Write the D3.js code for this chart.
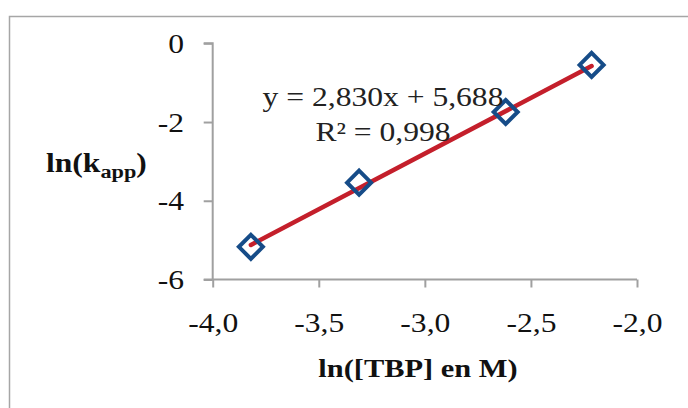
<!DOCTYPE html>
<html><head><meta charset="utf-8">
<script src="https://cdn.jsdelivr.net/npm/d3@7"></script>
<style>body{margin:0;background:#fff}svg{display:block}</style>
</head><body>
<svg id="c" width="688" height="408"></svg>
<script>
const xValues = [-3.82, -3.31, -2.619, -2.214];
const yValues = [-5.17, -3.54, -1.745, -0.549];
const slope = 2.830, intercept = 5.688;
const equationLines = ["y = 2,830x + 5,688", "R² = 0,998"];
const xTicks = [-4.0, -3.5, -3.0, -2.5, -2.0];
const yTicks = [0, -2, -4, -6];
const xTitle = "ln([TBP] en M)";

const FONT = '"Liberation Serif", "Times New Roman", serif';
const SX = 1.17;
const svg = d3.select("#c");
svg.append("rect").attr("x", 9.5).attr("y", 16.5).attr("width", 700).attr("height", 420)
  .attr("fill", "#fff").attr("stroke", "#a6a6a6").attr("stroke-width", 1.5);

const x = d3.scaleLinear().domain([-4, -2]).range([212.7, 637]);
const y = d3.scaleLinear().domain([-6, 0]).range([279.5, 43.3]);
const fmtX = v => d3.format(".1f")(v).replace(".", ",").replace("−", "-");
const fmtY = v => String(v).replace("−", "-");

const axCol = "#a0a0a0";
const xAxis = svg.append("g").attr("transform", `translate(0,${y(-6)})`)
  .call(d3.axisBottom(x).tickValues(xTicks).tickFormat(fmtX).tickSize(8).tickSizeOuter(0));
const yAxis = svg.append("g").attr("transform", `translate(${x(-4)},0)`)
  .call(d3.axisLeft(y).tickValues(yTicks).tickFormat(fmtY).tickSize(9).tickSizeOuter(0));
[xAxis, yAxis].forEach(g => {
  g.selectAll("path,line").attr("stroke", axCol).attr("stroke-width", 2);
  g.selectAll("text").style("font-family", FONT).style("font-size", "27px").attr("fill", "#111")
    .attr("transform", `scale(${SX},1)`);
});
xAxis.selectAll("text").attr("y", 53).attr("dy", 0);
yAxis.selectAll("text").attr("x", -24.5).attr("dx", 0).attr("dy", "0.34em");
yAxis.select("path").attr("d", `M-9,${y(0)}H0V${y(-6)}`);
xAxis.select("path").attr("d", `M${x(-4)},0H${x(-2)}`);
svg.append("line").attr("x1", x(-4) - 9).attr("x2", x(-4)).attr("y1", y(-6)).attr("y2", y(-6))
  .attr("stroke", axCol).attr("stroke-width", 2);

// trendline
const xMin = d3.min(xValues), xMax = d3.max(xValues);
svg.append("line")
  .attr("x1", x(xMin)).attr("y1", y(slope * xMin + intercept))
  .attr("x2", x(xMax)).attr("y2", y(slope * xMax + intercept))
  .attr("stroke", "#c41f2b").attr("stroke-width", 4.5).attr("stroke-linecap", "round");

// markers
const r = 12;
svg.append("g").selectAll("path").data(xValues.map((v, i) => [v, yValues[i]])).join("path")
  .attr("d", d => `M${x(d[0])},${y(d[1]) - r}L${x(d[0]) + r},${y(d[1])}L${x(d[0])},${y(d[1]) + r}L${x(d[0]) - r},${y(d[1])}Z`)
  .attr("fill", "none").attr("stroke", "#164c88").attr("stroke-width", 4);

// equation
equationLines.forEach((t, i) => {
  svg.append("text").style("font-family", FONT).style("font-size", "27px")
    .attr("fill", "#222").attr("text-anchor", "middle")
    .attr("transform", `translate(383,${106 + i * 35}) scale(${SX},1)`).text(t);
});

// y title
const yt = svg.append("text").style("font-family", FONT).style("font-weight", "bold")
  .style("font-size", "27px").attr("fill", "#111")
  .attr("transform", `translate(46,171.5) scale(${SX},1)`);
yt.append("tspan").text("ln(k");
yt.append("tspan").style("font-size", "19px").attr("dy", 6).text("app");
yt.append("tspan").attr("dy", -6).text(")");

// x title
svg.append("text").style("font-family", FONT).style("font-weight", "bold")
  .style("font-size", "26px").attr("fill", "#111").attr("text-anchor", "middle")
  .attr("transform", `translate(418,377) scale(${SX},1)`).text(xTitle);
</script>
</body></html>
